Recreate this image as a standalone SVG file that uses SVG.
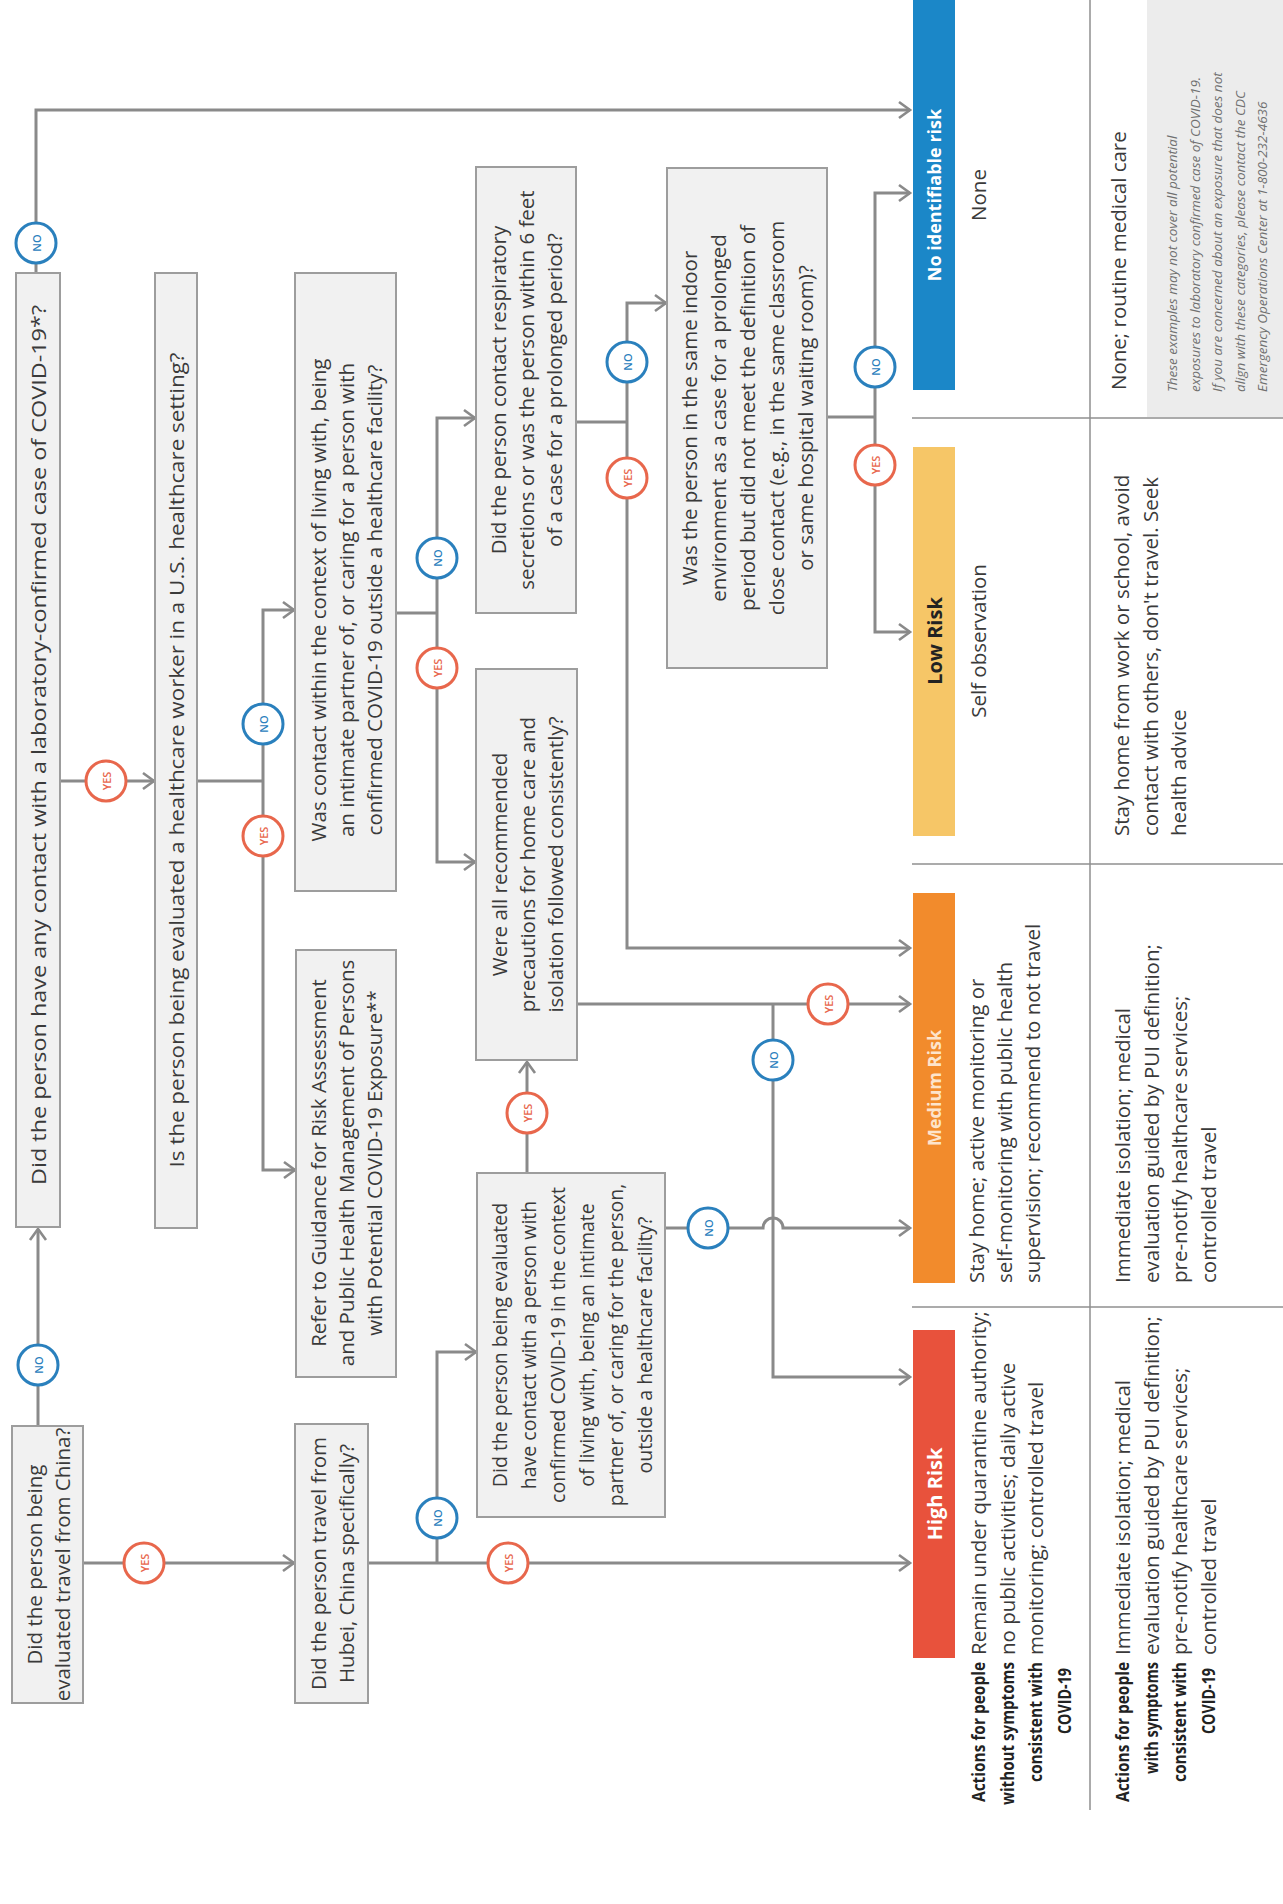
<svg xmlns="http://www.w3.org/2000/svg" width="1283" height="1904" viewBox="0 0 1283 1904">
<defs>
<marker id="ah" markerWidth="16" markerHeight="20" refX="13" refY="10" orient="auto" markerUnits="userSpaceOnUse">
<path d="M2,2 L13,10 L2,18" fill="none" stroke="#8a8a8a" stroke-width="2.6"/>
</marker>
<style>
.box{fill:#f1f1f1;stroke:#9d9d9d;stroke-width:2}
.ln{fill:none;stroke:#8a8a8a;stroke-width:3}
.ar{marker-end:url(#ah)}
text{font-family:"Open Sans","Noto Sans","DejaVu Sans",sans-serif}
.q{font-size:20.5px;fill:#3a3a3a;text-anchor:middle;dominant-baseline:central}
.b{font-size:20.5px;fill:#3a3a3a;dominant-baseline:central}
.bc{font-size:20.5px;fill:#3a3a3a;dominant-baseline:central;text-anchor:middle}
.lbl{font-size:20px;font-weight:700;fill:#fff;text-anchor:middle;dominant-baseline:central}
.hd{font-size:18px;font-weight:700;fill:#222;text-anchor:end;dominant-baseline:central}
.note{font-size:13.5px;font-style:italic;fill:#707070;dominant-baseline:central}
.yc{fill:#fff;stroke:#e8674c;stroke-width:3}
.nc{fill:#fff;stroke:#2a80bd;stroke-width:3}
.yt{font-size:11px;font-weight:600;fill:#e8674c;text-anchor:middle;dominant-baseline:central}
.nt{font-size:11px;font-weight:600;fill:#2a80bd;text-anchor:middle;dominant-baseline:central}
.sep{stroke:#8f8f8f;stroke-width:1.5;fill:none}
</style>
</defs>
<rect width="1283" height="1904" fill="#ffffff"/>

<g id="connectors">
<path class="ln ar" d="M36,273 V110 H910"/>
<path class="ln ar" d="M38,1426 V1229"/>
<path class="ln ar" d="M60,781 H154"/>
<path class="ln" d="M197,781 H263"/>
<path class="ln ar" d="M263,781 V610 H294"/>
<path class="ln ar" d="M263,781 V1170 H295"/>
<path class="ln" d="M396,613 H437"/>
<path class="ln ar" d="M437,613 V418 H475"/>
<path class="ln ar" d="M437,613 V862 H475"/>
<path class="ln" d="M576,422 H627"/>
<path class="ln ar" d="M627,422 V303 H666"/>
<path class="ln ar" d="M627,422 V948 H910"/>
<path class="ln" d="M827,417 H875"/>
<path class="ln ar" d="M875,417 V193 H910"/>
<path class="ln ar" d="M875,417 V632 H910"/>
<path class="ln ar" d="M577,1004 H910"/>
<path class="ln ar" d="M773,1004 V1377 H910"/>
<path class="ln ar" d="M665,1228 H763 A10,10 0 0 1 783,1228 H910"/>
<path class="ln ar" d="M527,1173 V1062"/>
<path class="ln ar" d="M70,1563 H294"/>
<path class="ln ar" d="M368,1563 H910"/>
<path class="ln ar" d="M437,1563 V1352 H476"/>
</g>

<g id="q1"><rect class="box" x="16" y="273" width="44" height="954"/>
<text class="q" transform="translate(38,745) rotate(-90)" textLength="880" lengthAdjust="spacingAndGlyphs">Did the person have any contact with a laboratory-confirmed case of COVID-19*?</text></g>

<g id="q2"><rect class="box" x="155" y="273" width="42" height="955"/>
<text class="q" transform="translate(176,760) rotate(-90)" textLength="815" lengthAdjust="spacingAndGlyphs">Is the person being evaluated a healthcare worker in a U.S. healthcare setting?</text></g>

<g id="q3"><rect class="box" x="295" y="273" width="101" height="618"/>
<text class="q" transform="translate(345.5,600) rotate(-90)"><tspan x="0" y="-28">Was contact within the context of living with, being</tspan><tspan x="0" y="0">an intimate partner of, or caring for a person with</tspan><tspan x="0" y="28">confirmed COVID-19 outside a healthcare facility?</tspan></text></g>

<g id="refer"><rect class="box" x="296" y="950" width="100" height="427"/>
<text class="q" transform="translate(346,1163) rotate(-90)"><tspan x="0" y="-28">Refer to Guidance for Risk Assessment</tspan><tspan x="0" y="0">and Public Health Management of Persons</tspan><tspan x="0" y="28">with Potential COVID-19 Exposure**</tspan></text></g>

<g id="q7"><rect class="box" x="476" y="167" width="100" height="446"/>
<text class="q" transform="translate(526,390) rotate(-90)"><tspan x="0" y="-28">Did the person contact respiratory</tspan><tspan x="0" y="0">secretions or was the person within 6 feet</tspan><tspan x="0" y="28">of a case for a prolonged period?</tspan></text></g>

<g id="q6"><rect class="box" x="476" y="669" width="101" height="391"/>
<text class="q" transform="translate(526.5,864.5) rotate(-90)"><tspan x="0" y="-28">Were all recommended</tspan><tspan x="0" y="0">precautions for home care and</tspan><tspan x="0" y="28">isolation followed consistently?</tspan></text></g>

<g id="q8"><rect class="box" x="667" y="168" width="160" height="500"/>
<text class="q" transform="translate(747,418) rotate(-90)"><tspan x="0" y="-58">Was the person in the same indoor</tspan><tspan x="0" y="-29">environment as a case for a prolonged</tspan><tspan x="0" y="0">period but did not meet the definition of</tspan><tspan x="0" y="29">close contact (e.g., in the same classroom</tspan><tspan x="0" y="58">or same hospital waiting room)?</tspan></text></g>

<g id="q5"><rect class="box" x="477" y="1173" width="188" height="344"/>
<text class="q" style="font-size:19.5px" transform="translate(571,1345) rotate(-90)"><tspan x="0" y="-72.5">Did the person being evaluated</tspan><tspan x="0" y="-43.5">have contact with a person with</tspan><tspan x="0" y="-14.5">confirmed COVID-19 in the context</tspan><tspan x="0" y="14.5">of living with, being an intimate</tspan><tspan x="0" y="43.5">partner of, or caring for the person,</tspan><tspan x="0" y="72.5">outside a healthcare facility?</tspan></text></g>

<g id="q0"><rect class="box" x="12" y="1426" width="71" height="277"/>
<text class="q" transform="translate(47.5,1564.5) rotate(-90)"><tspan x="0" y="-14">Did the person being</tspan><tspan x="0" y="14">evaluated travel from China?</tspan></text></g>

<g id="q4"><rect class="box" x="295" y="1424" width="73" height="279"/>
<text class="q" transform="translate(331.5,1563.5) rotate(-90)"><tspan x="0" y="-14">Did the person travel from</tspan><tspan x="0" y="14">Hubei, China specifically?</tspan></text></g>

<g id="badges">
<g transform="translate(36,243)"><circle class="nc" r="20"/><text class="nt" transform="rotate(-90)">NO</text></g>
<g transform="translate(38,1365)"><circle class="nc" r="20"/><text class="nt" transform="rotate(-90)">NO</text></g>
<g transform="translate(106,781)"><circle class="yc" r="20"/><text class="yt" transform="rotate(-90)">YES</text></g>
<g transform="translate(263,724)"><circle class="nc" r="20"/><text class="nt" transform="rotate(-90)">NO</text></g>
<g transform="translate(263,836)"><circle class="yc" r="20"/><text class="yt" transform="rotate(-90)">YES</text></g>
<g transform="translate(437,558)"><circle class="nc" r="20"/><text class="nt" transform="rotate(-90)">NO</text></g>
<g transform="translate(437,668)"><circle class="yc" r="20"/><text class="yt" transform="rotate(-90)">YES</text></g>
<g transform="translate(627,362)"><circle class="nc" r="20"/><text class="nt" transform="rotate(-90)">NO</text></g>
<g transform="translate(627,478)"><circle class="yc" r="20"/><text class="yt" transform="rotate(-90)">YES</text></g>
<g transform="translate(875,367)"><circle class="nc" r="20"/><text class="nt" transform="rotate(-90)">NO</text></g>
<g transform="translate(875,465)"><circle class="yc" r="20"/><text class="yt" transform="rotate(-90)">YES</text></g>
<g transform="translate(828,1004)"><circle class="yc" r="20"/><text class="yt" transform="rotate(-90)">YES</text></g>
<g transform="translate(773,1060)"><circle class="nc" r="20"/><text class="nt" transform="rotate(-90)">NO</text></g>
<g transform="translate(708,1228)"><circle class="nc" r="20"/><text class="nt" transform="rotate(-90)">NO</text></g>
<g transform="translate(527,1113)"><circle class="yc" r="20"/><text class="yt" transform="rotate(-90)">YES</text></g>
<g transform="translate(144,1563)"><circle class="yc" r="20"/><text class="yt" transform="rotate(-90)">YES</text></g>
<g transform="translate(508,1563)"><circle class="yc" r="20"/><text class="yt" transform="rotate(-90)">YES</text></g>
<g transform="translate(437,1518)"><circle class="nc" r="20"/><text class="nt" transform="rotate(-90)">NO</text></g>
</g>

<g id="table">
<line class="sep" x1="912" y1="418" x2="1283" y2="418"/>
<line class="sep" x1="912" y1="864" x2="1283" y2="864"/>
<line class="sep" x1="912" y1="1307" x2="1283" y2="1307"/>
<line class="sep" x1="1090" y1="0" x2="1090" y2="1810"/>
</g>

<g id="no-risk">
<rect x="913" y="0" width="42" height="390" fill="#1b87c8"/>
<text class="lbl" style="font-size:18px" transform="translate(934,195) rotate(-90)">No identifiable risk</text>
<text class="bc" transform="translate(978,195) rotate(-90)">None</text>
<text class="b" transform="translate(1118,390) rotate(-90)">None; routine medical care</text>
<rect x="1147" y="0" width="136" height="417" fill="#ececec"/>
<text class="note" transform="translate(1172,392) rotate(-90)"><tspan x="0" y="0">These examples may not cover all potential</tspan><tspan x="0" y="22.5">exposures to laboratory confirmed case of COVID-19.</tspan><tspan x="0" y="45">If you are concerned about an exposure that does not</tspan><tspan x="0" y="67.5">align with these categories, please contact the CDC</tspan><tspan x="0" y="90">Emergency Operations Center at 1-800-232-4636</tspan></text>
</g>

<g id="low-risk">
<rect x="913" y="447" width="42" height="389" fill="#f6c667"/>
<text class="lbl" style="fill:#222" transform="translate(934,641) rotate(-90)">Low Risk</text>
<text class="bc" transform="translate(978,641) rotate(-90)">Self observation</text>
<text class="b" transform="translate(1121,836) rotate(-90)"><tspan x="0" y="0">Stay home from work or school, avoid</tspan><tspan x="0" y="28.5">contact with others, don't travel. Seek</tspan><tspan x="0" y="57">health advice</tspan></text>
</g>

<g id="medium-risk">
<rect x="913" y="893" width="42" height="390" fill="#f28b2c"/>
<text class="lbl" style="font-size:18px;fill:#fde4cc" transform="translate(934,1088) rotate(-90)">Medium Risk</text>
<text class="b" transform="translate(976,1283) rotate(-90)"><tspan x="0" y="0">Stay home; active monitoring or</tspan><tspan x="0" y="28">self-monitoring with public health</tspan><tspan x="0" y="56">supervision; recommend to not travel</tspan></text>
<text class="b" transform="translate(1122,1283) rotate(-90)"><tspan x="0" y="0">Immediate isolation; medical</tspan><tspan x="0" y="28.5">evaluation guided by PUI definition;</tspan><tspan x="0" y="57">pre-notify healthcare services;</tspan><tspan x="0" y="85.5">controlled travel</tspan></text>
</g>

<g id="high-risk">
<rect x="913" y="1330" width="42" height="328" fill="#e8523c"/>
<text class="lbl" transform="translate(934,1494) rotate(-90)">High Risk</text>
<text class="b" transform="translate(978,1655) rotate(-90)"><tspan x="0" y="0">Remain under quarantine authority;</tspan><tspan x="0" y="28.5">no public activities; daily active</tspan><tspan x="0" y="57">monitoring; controlled travel</tspan></text>
<text class="b" transform="translate(1122,1655) rotate(-90)"><tspan x="0" y="0">Immediate isolation; medical</tspan><tspan x="0" y="28.5">evaluation guided by PUI definition;</tspan><tspan x="0" y="57">pre-notify healthcare services;</tspan><tspan x="0" y="85.5">controlled travel</tspan></text>
</g>

<g id="row-labels">
<text class="hd" transform="translate(978,1662) rotate(-90)"><tspan x="0" y="0" textLength="140" lengthAdjust="spacingAndGlyphs">Actions for people</tspan><tspan x="0" y="28.5" textLength="143" lengthAdjust="spacingAndGlyphs">without symptoms</tspan><tspan x="0" y="57" textLength="120" lengthAdjust="spacingAndGlyphs">consistent with</tspan><tspan x="-6" y="85.5" textLength="66" lengthAdjust="spacingAndGlyphs">COVID-19</tspan></text>
<text class="hd" transform="translate(1122,1662) rotate(-90)"><tspan x="0" y="0" textLength="140" lengthAdjust="spacingAndGlyphs">Actions for people</tspan><tspan x="0" y="28.5" textLength="112" lengthAdjust="spacingAndGlyphs">with symptoms</tspan><tspan x="0" y="57" textLength="120" lengthAdjust="spacingAndGlyphs">consistent with</tspan><tspan x="-6" y="85.5" textLength="66" lengthAdjust="spacingAndGlyphs">COVID-19</tspan></text>
</g>
</svg>
